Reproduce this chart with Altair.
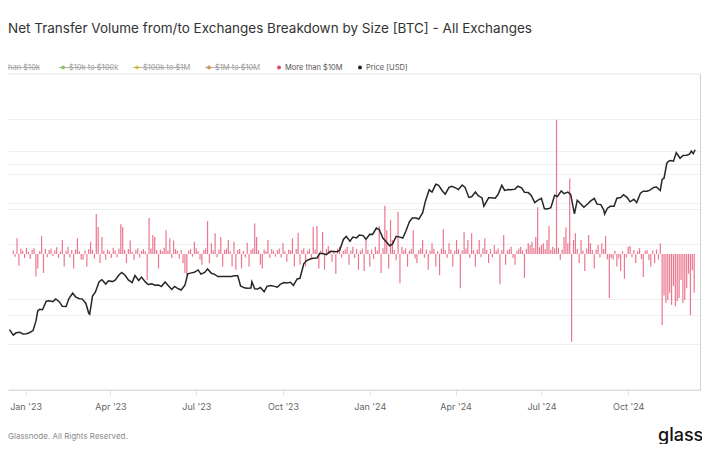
import altair as alt
import pandas as pd

# ---------------- data ----------------
price_dates = [
    "2022-12-15", "2022-12-19", "2022-12-22", "2022-12-26", "2022-12-29",
    "2023-01-02", "2023-01-05", "2023-01-09", "2023-01-12", "2023-01-14", "2023-01-16", "2023-01-19",
    "2023-01-23", "2023-01-26", "2023-01-30", "2023-02-02", "2023-02-06", "2023-02-09", "2023-02-13",
    "2023-02-16", "2023-02-20", "2023-02-23", "2023-02-27", "2023-03-02", "2023-03-06", "2023-03-09",
    "2023-03-10", "2023-03-13", "2023-03-16", "2023-03-20", "2023-03-23", "2023-03-27", "2023-03-30",
    "2023-04-03", "2023-04-06", "2023-04-10", "2023-04-13", "2023-04-17", "2023-04-20", "2023-04-24",
    "2023-04-27", "2023-05-01", "2023-05-04", "2023-05-08", "2023-05-11", "2023-05-15", "2023-05-18",
    "2023-05-22", "2023-05-25", "2023-05-29", "2023-06-01", "2023-06-05", "2023-06-08", "2023-06-12",
    "2023-06-15", "2023-06-19", "2023-06-22", "2023-06-26", "2023-06-29", "2023-07-03", "2023-07-06",
    "2023-07-10", "2023-07-13", "2023-07-17", "2023-07-20", "2023-07-24", "2023-07-27", "2023-07-31",
    "2023-08-03", "2023-08-07", "2023-08-10", "2023-08-14", "2023-08-17", "2023-08-21", "2023-08-24",
    "2023-08-28", "2023-08-29", "2023-09-01", "2023-09-04", "2023-09-07", "2023-09-11", "2023-09-14",
    "2023-09-18", "2023-09-21", "2023-09-25", "2023-09-28", "2023-10-02", "2023-10-05", "2023-10-09",
    "2023-10-12", "2023-10-16", "2023-10-19", "2023-10-23", "2023-10-26", "2023-10-30", "2023-11-02",
    "2023-11-06", "2023-11-09", "2023-11-13", "2023-11-16", "2023-11-20", "2023-11-23", "2023-11-27",
    "2023-11-30", "2023-12-04", "2023-12-07", "2023-12-11", "2023-12-14", "2023-12-18", "2023-12-21",
    "2023-12-25", "2023-12-28", "2024-01-01", "2024-01-04", "2024-01-08", "2024-01-11", "2024-01-15",
    "2024-01-18", "2024-01-22", "2024-01-25", "2024-01-29", "2024-02-01", "2024-02-05", "2024-02-08",
    "2024-02-12", "2024-02-15", "2024-02-19", "2024-02-22", "2024-02-26", "2024-02-29", "2024-03-04",
    "2024-03-07", "2024-03-11", "2024-03-14", "2024-03-18", "2024-03-21", "2024-03-25", "2024-03-28",
    "2024-04-01", "2024-04-04", "2024-04-08", "2024-04-11", "2024-04-15", "2024-04-18", "2024-04-22",
    "2024-04-25", "2024-04-29", "2024-05-01", "2024-05-06", "2024-05-09", "2024-05-13", "2024-05-16",
    "2024-05-20", "2024-05-23", "2024-05-27", "2024-05-30", "2024-06-03", "2024-06-06", "2024-06-10",
    "2024-06-13", "2024-06-17", "2024-06-20", "2024-06-24", "2024-06-27", "2024-07-01", "2024-07-04",
    "2024-07-05", "2024-07-08", "2024-07-11", "2024-07-15", "2024-07-18", "2024-07-22", "2024-07-25",
    "2024-07-29", "2024-08-01", "2024-08-05", "2024-08-08", "2024-08-12", "2024-08-15", "2024-08-19",
    "2024-08-22", "2024-08-26", "2024-08-29", "2024-09-02", "2024-09-05", "2024-09-06", "2024-09-09",
    "2024-09-12", "2024-09-16", "2024-09-19", "2024-09-23", "2024-09-26", "2024-09-30", "2024-10-03",
    "2024-10-07", "2024-10-10", "2024-10-14", "2024-10-17", "2024-10-21", "2024-10-24", "2024-10-28",
    "2024-10-31", "2024-11-04", "2024-11-06", "2024-11-08", "2024-11-11", "2024-11-13", "2024-11-15",
    "2024-11-18", "2024-11-21", "2024-11-25", "2024-11-28", "2024-12-02", "2024-12-05", "2024-12-07",
    "2024-12-09", "2024-12-11",
]
price_usd = [
    17360, 16440, 16820, 16920, 16630,
    16680, 16830, 17190, 18850, 20880, 21180, 21080,
    22920, 23010, 22830, 23430, 22760, 21800, 21780,
    23520, 24830, 23940, 23490, 23460, 22430, 20360,
    20190, 24110, 25050, 27770, 28320, 27140, 28030,
    27790, 28170, 29650, 30400, 29430, 28250, 27510,
    29470, 28070, 29030, 27700, 26990, 27170, 26820,
    26850, 26470, 27700, 26820, 25730, 26500, 25900,
    25580, 26840, 29990, 30270, 30450, 31160, 29910,
    30410, 31470, 30140, 29910, 29180, 29210, 29230,
    29180, 29180, 29430, 29410, 26620, 26130, 26050,
    26100, 27730, 25870, 25820, 26230, 25160, 26530,
    26760, 26580, 26300, 27030, 27530, 27410, 27590,
    26760, 28520, 28710, 33090, 34150, 34660, 34940,
    35050, 36690, 36490, 36160, 37390, 37290, 37250,
    37710, 41980, 43290, 41240, 43020, 42660, 43860,
    43610, 42100, 44170, 44150, 46970, 46340, 42510,
    41290, 39510, 40080, 43300, 43080, 42580, 45290,
    49950, 51840, 51780, 51300, 54520, 61130, 68330,
    66820, 72120, 71380, 67600, 65500, 69960, 70780,
    69640, 68510, 71630, 70010, 63430, 63810, 66840,
    64480, 63110, 58250, 63160, 63160, 62900, 65230,
    71450, 67930, 68520, 68360, 68800, 70790, 69650,
    66770, 66500, 64830, 60280, 61610, 62850, 57020,
    56660, 56710, 57340, 64780, 63970, 67590, 65780,
    66820, 65350, 54020, 61710, 59350, 57560, 59490,
    61160, 62880, 59370, 59110, 56160, 53950, 57050,
    58130, 58210, 62940, 63330, 65180, 63330, 60750,
    62290, 60270, 66080, 67420, 67380, 68160, 69910,
    70220, 67810, 75640, 76550, 88700, 90580, 91070,
    90460, 98420, 93100, 95640, 95860, 96970, 99920,
    97400, 101170,
]

# net transfer volume (thousand BTC), one value every 2 days from 2022-12-19
net_flow_kbtc = [
    0.8, -0.6, 3.5, -2.6, 1.2, 0.7, -0.9, 1.4, 0.5, -1.1,
    0.9, 1.3, -5.0, -3.2, 0.6, 4.0, -4.2, 1.1, -0.7, 0.9,
    1.2, -0.5, 0.8, 1.5, -0.9, 0.6, 3.1, -2.8, 0.7, 1.6,
    -0.8, 0.9, -3.2, 1.0, 3.5, 0.6, -1.2, -1.3, 0.8, -2.8,
    1.1, 2.7, 0.9, -1.0, 8.9, 6.0, -2.0, 3.8, 0.7, -1.3,
    1.0, 0.6, -0.9, 1.4, 0.8, -0.7, 1.2, 6.6, 6.0, 0.9,
    -2.0, 1.1, 3.0, 0.5, -1.3, 0.9, 1.3, -0.8, 0.7, 1.1,
    0.6, -5.8, 8.0, 1.2, 4.2, 3.8, 0.9, -3.2, 1.0, 0.6,
    1.4, 5.3, 0.8, 3.5, -0.9, 3.0, 1.1, 0.7, -1.0, 0.9,
    -2.0, -4.2, -4.7, 0.8, 1.1, -0.6, 2.7, 1.3, 0.6, -1.2,
    -2.4, 0.9, 1.2, 7.3, -2.0, 2.4, 0.8, 4.6, -0.7, 1.0,
    3.8, -2.8, 0.9, 1.2, 3.1, 0.6, -2.8, 2.7, -3.5, 0.9,
    1.1, -3.2, 0.7, -0.8, 2.5, -2.8, 0.9, 1.2, 6.8, 3.8,
    0.8, -2.4, -3.2, 1.0, 0.6, 3.1, -0.9, 1.1, 0.7, -0.6,
    0.9, 1.2, -0.8, 2.4, 0.6, -1.7, 1.0, 0.8, 3.5, -2.8,
    1.1, 4.7, -2.4, 0.9, 1.3, -2.8, 0.7, 1.2, -0.9, 6.0,
    1.0, 6.2, -3.2, 0.8, 4.9, -3.5, 1.1, 1.8, 0.6, -1.7,
    0.9, -4.4, 1.2, 1.6, -0.8, 0.7, 1.0, 1.6, -2.4, 0.8,
    1.6, -0.9, 1.1, -3.5, 0.7, 1.2, -3.8, 3.1, 0.9, -2.8,
    1.0, -1.1, 1.6, 0.8, 6.2, -4.2, 1.3, 10.7, 5.3, -3.2,
    7.6, 3.1, 0.9, -1.4, 9.4, -6.5, 1.6, 0.8, 1.2, -2.8,
    0.7, 1.1, 5.3, -1.0, -2.0, 0.9, 1.2, 3.1, -0.8, 1.0,
    -3.5, 0.8, 2.4, 1.1, -2.8, 0.6, -4.7, 1.2, 5.5, 0.9,
    -0.9, 2.4, 1.0, -2.8, 0.7, 3.1, 1.1, -7.6, 0.8, 4.9,
    1.2, 3.1, -0.9, 4.6, 0.8, -2.8, 1.0, 3.1, -0.7, 1.3,
    3.5, 0.9, -2.0, 1.1, -0.8, 2.0, 0.7, 1.2, -6.7, 0.9,
    4.2, -2.4, 0.8, 1.1, 1.6, -0.9, -2.4, 0.7, 1.2, 1.6,
    0.8, -5.3, 1.1, 2.4, 2.0, 2.7, 1.3, 3.8, 10.4, 1.5,
    2.0, 2.4, 1.1, 3.1, 6.2, 0.9, 1.6, 1.2, 29.8, 1.4,
    -1.3, 1.0, 3.8, 5.9, 2.4, 16.8, -19.5, 3.1, 4.6, 1.1,
    -2.0, 3.1, 0.8, -3.8, 1.2, 4.2, 2.4, 0.9, -3.2, 1.0,
    2.0, -0.8, 2.4, 1.1, 4.0, -1.2, -9.8, -0.9, -1.3, 0.7,
    -2.8, -1.0, -3.8, 0.6, -5.5, -0.8, 1.6, 1.8, -0.7, 0.9,
    -2.0, 0.6, 1.3, -1.1, -5.1, 0.7, 0.9, -1.4, -2.8, 0.8,
    -2.0, 1.0, -1.2, 2.4, -15.8, -9.2, -10.9, -10.2, -8.7, -11.3,
    -7.1, -11.6, -10.5, -9.8, -5.8, -10.9, -10.2, -7.6, -4.4, -13.6, -3.6, -8.6,
]
flow_dates = list(pd.date_range("2022-12-19", periods=len(net_flow_kbtc), freq="2D").strftime("%Y-%m-%d"))

legend_labels = ["Less than $10k", "$10k to $100k", "$100k to $1M", "$1M to $10M", "More than $10M", "Price [USD]"]
legend_colors = ["#6fb6e8", "#8fd14f", "#f0d324", "#ef8f3c", "#e8456a", "#222222"]
legend_hidden = [True, True, True, True, False, False]

flow_ticks_kbtc = [-30, -20, -10, 10, 20, 30]
price_ticks = [20000, 40000, 60000, 80000, 100000]
quarter_ticks = [(2023, 1), (2023, 4), (2023, 7), (2023, 10), (2024, 1), (2024, 4), (2024, 7), (2024, 10)]

title_text = "Net Transfer Volume from/to Exchanges Breakdown by Size [BTC] - All Exchanges"
footer_text = "Glassnode. All Rights Reserved."
logo_text = "glassnode"

# ---------------- chart ----------------
W, H = 693, 316
FONT = "Inter"

flow_df = pd.DataFrame({"date": flow_dates, "net": net_flow_kbtc})
price_df = pd.DataFrame({"date": price_dates, "price": price_usd})
one = pd.DataFrame({"k": [0]})

x_scale = alt.Scale(
    type="utc",
    domain=[
        alt.DateTime(year=2022, month=12, date=18, hours=16, minutes=48, utc=True),
        alt.DateTime(year=2024, month=12, date=11, hours=21, minutes=36, utc=True),
    ],
)
x_axis = alt.Axis(
    values=[alt.DateTime(year=y, month=m, date=1, utc=True) for y, m in quarter_ticks],
    format="%b '%y",
    grid=False,
    domainColor="#dddddd",
    tickColor="#e2e2e2",
    tickSize=5,
    labelColor="#666666",
    labelFontSize=9,
    labelFont=FONT,
    labelPadding=7,
    title=None,
)

bars = alt.Chart(flow_df).mark_bar(size=1.2, color="#e5506f", opacity=0.78, clip=True).encode(
    x=alt.X("date:T", scale=x_scale, axis=x_axis),
    y=alt.Y(
        "net:Q",
        scale=alt.Scale(domain=[-30.22, 40], nice=False),
        axis=alt.Axis(
            orient="left", values=flow_ticks_kbtc, labels=False, ticks=False,
            domain=False, grid=True, gridColor="#eeeeee", title=None,
        ),
    ),
)

line = alt.Chart(price_df).mark_line(color="#262626", strokeWidth=1.5, clip=True).encode(
    x=alt.X("date:T", scale=x_scale, axis=x_axis),
    y=alt.Y(
        "price:Q",
        scale=alt.Scale(type="log", domain=[9600, 212700], nice=False),
        axis=alt.Axis(
            orient="right", values=price_ticks, labels=False, ticks=False,
            domain=False, grid=True, gridColor="#f1f1f1", title=None,
        ),
    ),
)

layers = [bars, line]

# frame lines (top and right)
layers.append(alt.Chart(one).mark_rule(color="#e6e6e6", strokeWidth=1).encode(
    x=alt.value(0), x2=alt.value(W), y=alt.value(0)))
layers.append(alt.Chart(one).mark_rule(color="#d2d2d2", strokeWidth=1).encode(
    x=alt.value(W - 0.5), y=alt.value(0), y2=alt.value(H)))

# title
layers.append(alt.Chart(pd.DataFrame({"t": [title_text]})).mark_text(
    align="left", baseline="middle", font=FONT, fontSize=13.5, color="#333333"
).encode(x=alt.value(0), y=alt.value(-45), text="t:N"))

# legend
LEG_Y = -6.5
dot_x = [-14, 55, 129, 201, 271, 352]
strike_end = [32, 105, 178, 248, None, None]
for lab, col, hid, dx, se in zip(legend_labels, legend_colors, legend_hidden, dot_x, strike_end):
    if lab == legend_labels[0]:
        layers.append(alt.Chart(pd.DataFrame({"t": [lab]})).mark_text(
            align="right", baseline="middle", font=FONT, fontSize=7.5, color="#9a9a9a"
        ).encode(x=alt.value(32), y=alt.value(LEG_Y), text="t:N"))
    else:
        layers.append(alt.Chart(one).mark_point(filled=True, size=16, opacity=1, color=col).encode(
            x=alt.value(dx), y=alt.value(LEG_Y)))
        layers.append(alt.Chart(pd.DataFrame({"t": [lab]})).mark_text(
            align="left", baseline="middle", font=FONT, fontSize=7.5,
            color="#9a9a9a" if hid else "#555555"
        ).encode(x=alt.value(dx + 6), y=alt.value(LEG_Y), text="t:N"))
    if hid:
        layers.append(alt.Chart(one).mark_rule(color="#a0a0a0", strokeWidth=0.8).encode(
            x=alt.value(max(dx - 4, 0)), x2=alt.value(se), y=alt.value(LEG_Y)))

# footer
layers.append(alt.Chart(pd.DataFrame({"t": [footer_text]})).mark_text(
    align="left", baseline="middle", font=FONT, fontSize=8, color="#8a8a8a"
).encode(x=alt.value(0), y=alt.value(363), text="t:N"))
layers.append(alt.Chart(pd.DataFrame({"t": [logo_text]})).mark_text(
    align="left", baseline="middle", font=FONT, fontSize=18, fontWeight=500, color="#111111"
).encode(x=alt.value(650), y=alt.value(362), text="t:N"))

chart = alt.layer(*layers).resolve_scale(y="independent").properties(
    width=W, height=H,
    autosize=alt.AutoSizeParams(type="none"),
    padding={"left": 0, "top": 66, "right": 1, "bottom": 54},
).configure(font=FONT).configure_view(stroke="transparent")

chart.save("out.html", embed_options={"renderer": "svg", "actions": False})
